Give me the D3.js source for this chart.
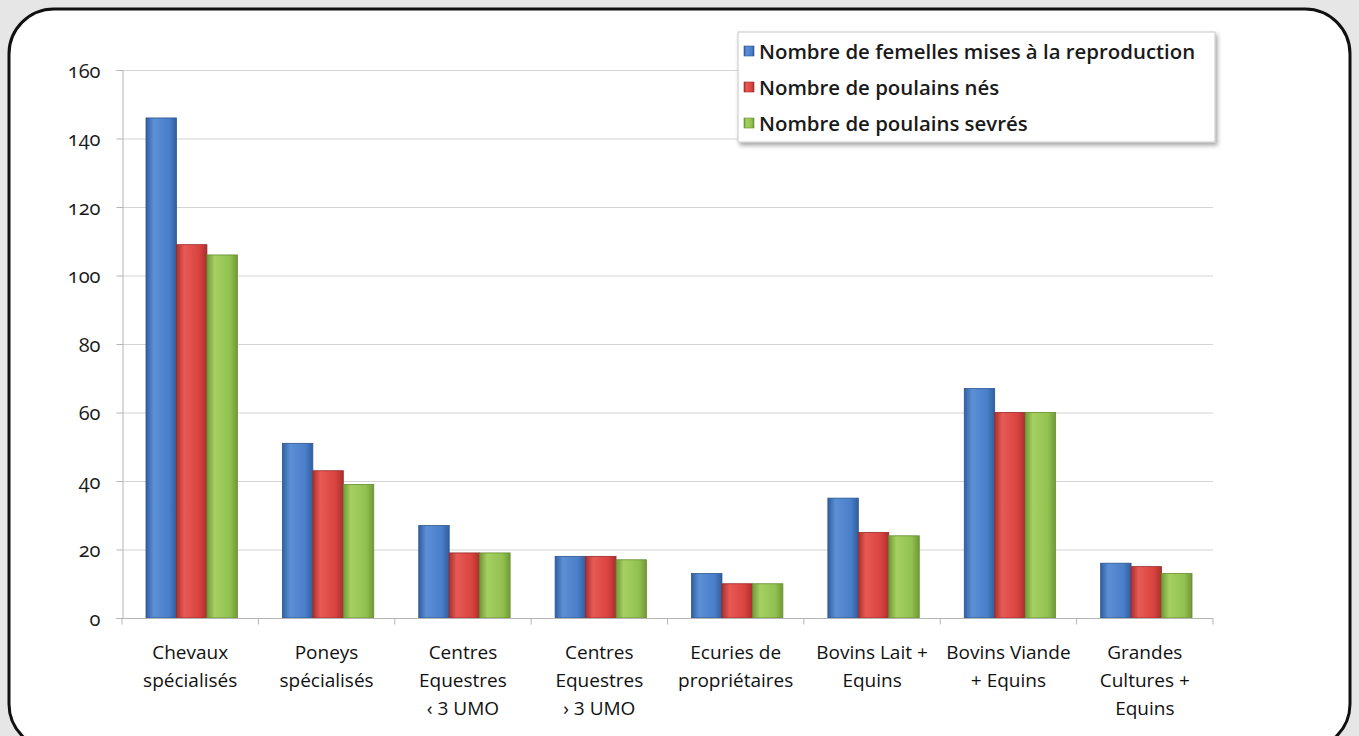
<!DOCTYPE html>
<html><head><meta charset="utf-8">
<script src="https://cdn.jsdelivr.net/npm/d3@7/dist/d3.min.js"></script>
<style>
html,body{margin:0;padding:0;background:#e6e6e6;}
svg{display:block;}
text{font-family:"Open Sans","Noto Sans",sans-serif;}
</style></head><body>
<svg id="c" width="1359" height="736"></svg>
<script>
const categories = [
  ["Chevaux","spécialisés"],
  ["Poneys","spécialisés"],
  ["Centres","Equestres","‹ 3 UMO"],
  ["Centres","Equestres","› 3 UMO"],
  ["Ecuries de","propriétaires"],
  ["Bovins Lait +","Equins"],
  ["Bovins Viande","+ Equins"],
  ["Grandes","Cultures +","Equins"]
];
const seriesNames = ["Nombre de femelles mises à la reproduction","Nombre de poulains nés","Nombre de poulains sevrés"];
const femelles = [146, 51, 27, 18, 13, 35, 67, 16];
const poulainsNes = [109, 43, 19, 18, 10, 25, 60, 15];
const poulainsSevres = [106, 39, 19, 17, 10, 24, 60, 13];
const yTicks = [0,20,40,60,80,100,120,140,160];
const colors = [
  {mid:"#4a7fc9", light:"#5b8fd6", dark:"#2f5f9e", edge:"#2c5690"},
  {mid:"#d9433f", light:"#e85a55", dark:"#a8302d", edge:"#9a2a28"},
  {mid:"#92c150", light:"#a6d062", dark:"#6f9a36", edge:"#668d31"}
];
const series = [femelles, poulainsNes, poulainsSevres];

const svg = d3.select("#c");
const defs = svg.append("defs");
colors.forEach((c,i)=>{
  const g = defs.append("linearGradient").attr("id","g"+i).attr("x1","0").attr("x2","1").attr("y1","0").attr("y2","0");
  g.append("stop").attr("offset","0%").attr("stop-color",c.dark);
  g.append("stop").attr("offset","25%").attr("stop-color",c.light);
  g.append("stop").attr("offset","75%").attr("stop-color",c.mid);
  g.append("stop").attr("offset","100%").attr("stop-color",c.dark);
});
const sh = defs.append("filter").attr("id","sh").attr("x","-5%").attr("y","-5%").attr("width","115%").attr("height","130%");
sh.append("feDropShadow").attr("dx",2).attr("dy",3).attr("stdDeviation",2).attr("flood-color","#000").attr("flood-opacity",0.35);

// frame
svg.append("rect").attr("x",9).attr("y",9).attr("width",1341).attr("height",740).attr("rx",45).attr("ry",45)
  .attr("fill","#fff").attr("stroke","#111").attr("stroke-width",3);

const pL=122, pR=1213, pT=70, pB=618;
const y = d3.scaleLinear().domain([0,160]).range([pB,pT]);
const x0 = d3.scaleBand().domain(d3.range(categories.length)).range([pL,pR]).paddingInner(0).paddingOuter(0);
const x1 = d3.scaleBand().domain([0,1,2]).range([24, x0.bandwidth()-21]).padding(0);

// gridlines
svg.append("g").selectAll("line").data(yTicks.filter(d=>d>0)).join("line")
  .attr("x1",pL).attr("x2",pR).attr("y1",d=>y(d)+0.5).attr("y2",d=>y(d)+0.5)
  .attr("stroke","#d4d4d4").attr("stroke-width",1.2);

// y axis
const yAxis = d3.axisLeft(y).tickValues(yTicks).tickSize(6).tickPadding(16);
const ya = svg.append("g").attr("transform",`translate(${pL+0.5},0)`).call(yAxis);
ya.select(".domain").attr("stroke","#b5b5b5");
ya.selectAll(".tick line").attr("stroke","#b5b5b5");
ya.selectAll(".tick text").attr("font-size",20).attr("fill","#1a1a1a").attr("font-family","'Open Sans',sans-serif")
  .style("font-variant-numeric","oldstyle-nums").style("font-feature-settings","'onum' 1").attr("dy","0.35em");

// bars
const groups = svg.append("g").selectAll("g").data(categories.map((c,i)=>i)).join("g")
  .attr("transform",i=>`translate(${x0(i)},0)`);
groups.selectAll("rect").data(i=>series.map((s,k)=>({k,v:s[i]}))).join("rect")
  .attr("x",d=>x1(d.k)).attr("width",x1.bandwidth())
  .attr("y",d=>y(d.v)).attr("height",d=>y(0)-y(d.v))
  .attr("fill",d=>`url(#g${d.k})`).attr("stroke",d=>colors[d.k].edge).attr("stroke-width",0.8);

// x axis
const xa = svg.append("g").attr("transform",`translate(0,${pB+0.5})`);
xa.append("line").attr("x1",pL).attr("x2",pR).attr("stroke","#b5b5b5");
xa.selectAll("line.t").data(d3.range(categories.length+1)).join("line").attr("class","t")
  .attr("x1",i=>pL+i*x0.bandwidth()).attr("x2",i=>pL+i*x0.bandwidth()).attr("y1",0).attr("y2",6).attr("stroke","#b5b5b5");
const labs = svg.append("g").selectAll("text").data(categories).join("text")
  .attr("x",(d,i)=>x0(i)+x0.bandwidth()/2).attr("y",659).attr("text-anchor","middle")
  .attr("font-size",19).attr("fill","#111").attr("font-weight",500);
labs.selectAll("tspan").data(d=>d).join("tspan")
  .attr("x",function(){return this.parentNode.getAttribute("x");})
  .attr("dy",(d,i)=>i===0?0:28).text(d=>d);

// legend
const lg = svg.append("g").attr("transform","translate(738,32)");
lg.append("rect").attr("width",477).attr("height",110).attr("fill","#fff").attr("stroke","#c8c8c8").attr("filter","url(#sh)");
const li = lg.selectAll("g").data(seriesNames).join("g").attr("transform",(d,i)=>`translate(0,${20+i*36})`);
li.append("rect").attr("x",6).attr("y",-6).attr("width",10).attr("height",10).attr("fill",(d,i)=>`url(#g${i})`).attr("stroke",(d,i)=>colors[i].edge).attr("stroke-width",0.6);
li.append("text").attr("x",21).attr("y",0).attr("dy","0.35em").attr("font-size",20.4).attr("font-weight",600).attr("fill","#1a1a1a").text(d=>d);
</script>
</body></html>
